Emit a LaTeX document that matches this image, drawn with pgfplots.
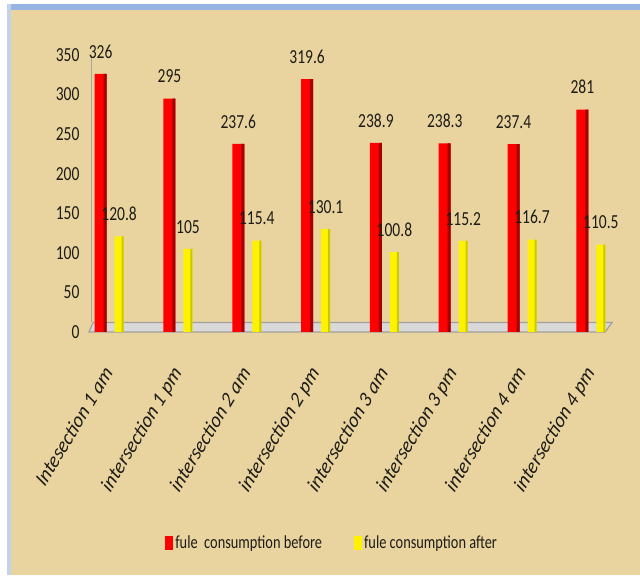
\documentclass[border=0pt]{standalone}
\usepackage{fontspec}
\setmainfont{Carlito}[FakeStretch=0.78]
\newfontfamily\labfont{Carlito}[FakeSlant=0.12]
\usepackage{pgfplots}
\pgfplotsset{compat=1.18}
\definecolor{parch}{RGB}{233,212,160}
\definecolor{frameblue}{RGB}{150,180,225}
\definecolor{frameblue2}{RGB}{195,210,235}
\definecolor{txt}{RGB}{30,28,22}
\definecolor{darkred}{RGB}{165,0,0}
\definecolor{darkyel}{RGB}{200,200,0}
\begin{document}
\begin{tikzpicture}[x=1bp,y=1bp]
\fill[white] (0,0) rectangle (640,577);
\fill[parch] (10,2) rectangle (640,568);
\fill[frameblue] (7,567) rectangle (640,573);
\fill[frameblue2] (7,2) rectangle (11,573);
\begin{axis}[
  scale only axis, width=523bp, height=277bp,
  at={(89bp,245bp)}, anchor=south west,
  xmin=-0.3, xmax=7.3, ymin=0, ymax=350,
  clip=false,
  ytick={0,50,...,350},
  xtick={0,...,7},
  xticklabels={Intesection 1 am, intersection 1 pm, intersection 2 am, intersection 2 pm, intersection 3 am, intersection 3 pm, intersection 4 am, intersection 4 pm},
  axis line style={draw=none},
  major tick length=0pt,
  /pgf/number format/assume math mode=true,
  yticklabel style={font=\fontsize{20}{22}\selectfont, text=txt, xshift=-6bp},
  xticklabel style={font=\labfont\itshape\fontsize{20}{22}\selectfont, text=txt, xshift=-8bp, yshift=-34bp, rotate=59, anchor=north east, inner sep=0pt},
  ybar,
  every node near coord/.append style={font=\fontsize{20}{22}\selectfont, text=txt, yshift=12bp},
  legend style={at={(0.465,-0.762)}, anchor=center, draw=none, fill=none,
     font=\fontsize{18.5}{20}\selectfont, text=txt,
     /tikz/every even column/.append style={column sep=30bp}},
  legend columns=2,
  legend image code/.code={\path[#1] (0bp,-7bp) rectangle (8bp,7bp);},
]
\filldraw[fill=gray!30, draw=gray!75, line width=1.2bp]
  (axis cs:-0.3,0) -- (axis cs:7.2,0) -- (axis cs:7.3,12) -- (axis cs:-0.24,12) -- cycle;
\draw[gray!70, line width=0.8bp] (axis cs:-0.27,12) -- (axis cs:-0.27,350);
\addplot[bar width=12bp, bar shift=-9bp, draw=none, fill=red, nodes near coords]
  coordinates {(0,326) (1,295) (2,237.6) (3,319.6) (4,238.9) (5,238.3) (6,237.4) (7,281)};
\addlegendentry{fule\ \ consumption before}
\addplot[bar width=9bp, bar shift=9.5bp, draw=none, fill=yellow, nodes near coords]
  coordinates {(0,120.8) (1,105) (2,115.4) (3,130.1) (4,100.8) (5,115.2) (6,116.7) (7,110.5)};
\addlegendentry{fule consumption after}
\addplot[forget plot, bar width=3bp, bar shift=-4.5bp, draw=none, fill=darkred]
  coordinates {(0,326) (1,295) (2,237.6) (3,319.6) (4,238.9) (5,238.3) (6,237.4) (7,281)};
\addplot[forget plot, bar width=2bp, bar shift=13bp, draw=none, fill=darkyel]
  coordinates {(0,120.8) (1,105) (2,115.4) (3,130.1) (4,100.8) (5,115.2) (6,116.7) (7,110.5)};
\end{axis}
\pgfresetboundingbox
\path[use as bounding box] (0,0) rectangle (640,577);
\end{tikzpicture}
\end{document}
